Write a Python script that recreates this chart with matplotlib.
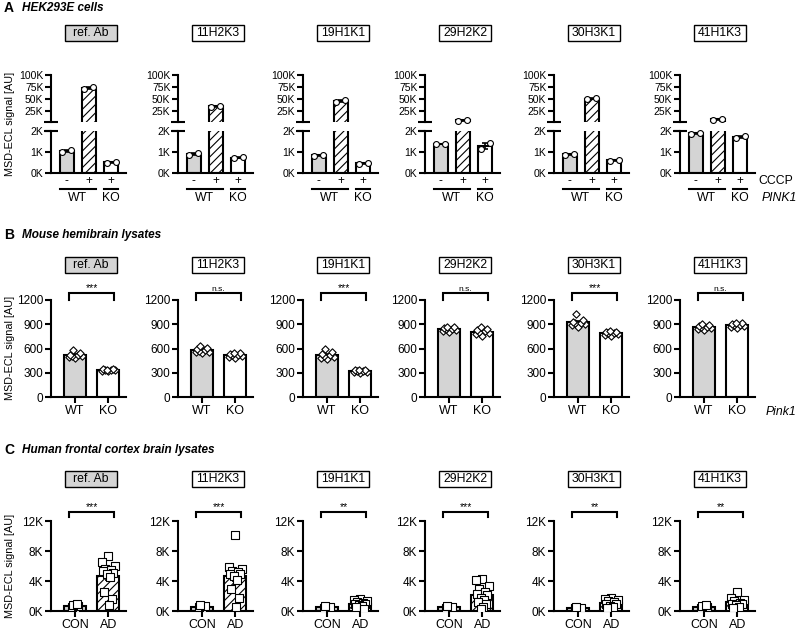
import numpy as np
import matplotlib
matplotlib.use('Agg')
import matplotlib.pyplot as plt
from matplotlib.patches import Rectangle
from matplotlib.transforms import blended_transform_factory

plt.rcParams['font.family'] = ['Liberation Sans', 'DejaVu Sans']
plt.rcParams['hatch.linewidth'] = 0.8

W, H = 800, 635
GRAY = '#d4d4d4'

antibodies = ['ref. Ab', '11H2K3', '19H1K1', '29H2K2', '30H3K1', '41H1K3']

# A: HEK293E cells (WT -CCCP, WT +CCCP, KO +CCCP), 2 replicates each
a_wt_minus = [[1000, 1080], [880, 930], [820, 860], [1360, 1390], [880, 920], [1880, 1910]]
a_wt_plus = [[71000, 76000], [34000, 36000], [44000, 47000], [5000, 7000], [49000, 52000], [6500, 8500]]
a_ko_plus = [[480, 540], [700, 740], [440, 470], [1130, 1420], [590, 640], [1670, 1740]]

# B: mouse hemibrain lysates
b_wt = [[480, 500, 505, 510, 515, 520, 550, 580],
        [540, 555, 560, 570, 580, 590, 610, 630],
        [470, 485, 500, 510, 515, 530, 555, 590],
        [810, 820, 830, 840, 845, 850, 860, 870],
        [870, 885, 900, 910, 920, 930, 950, 1030],
        [830, 845, 855, 860, 870, 880, 890, 905]]
b_ko = [[320, 325, 330, 335, 340, 345, 350, 330],
        [480, 500, 510, 520, 525, 530, 540, 545],
        [300, 310, 315, 320, 325, 330, 335, 340],
        [760, 780, 795, 805, 815, 825, 840, 860],
        [750, 770, 780, 790, 795, 800, 810, 820],
        [850, 870, 880, 890, 895, 900, 910, 920]]
b_sig = ['***', 'n.s.', '***', 'n.s.', '***', 'n.s.']

# C: human frontal cortex brain lysates
c_con = [[450, 600, 700, 800, 900],
         [400, 550, 650, 750],
         [300, 450, 550, 650],
         [300, 450, 550, 700],
         [250, 350, 450, 550],
         [300, 400, 550, 700, 800]]
c_ad = [[7300, 6600, 6000, 5600, 5500, 5300, 5100, 5000, 4500, 2500, 1600, 800],
        [10200, 5900, 5600, 5400, 5200, 5000, 4900, 4700, 4200, 3000, 1800, 600],
        [1600, 1500, 1300, 1200, 1100, 1000, 900, 800, 700, 500, 300],
        [4300, 4100, 3300, 3000, 2600, 2300, 2100, 1800, 1500, 1200, 900, 600, 300],
        [1700, 1600, 1500, 1300, 1200, 1000, 900, 700, 500, 400],
        [2600, 1700, 1500, 1300, 1100, 1000, 900, 800, 600, 400]]
c_sig = ['***', '***', '**', '***', '**', '**']

lefts = [51, 178, 303, 425, 554, 680]
AX_W = 75

fig = plt.figure(figsize=(8, 6.35), dpi=100)


def px_axes(left, top, width, height):
    return fig.add_axes([left / W, 1 - (top + height) / H, width / W, height / H])


def style(ax, fs):
    for s in ['top', 'right']:
        ax.spines[s].set_visible(False)
    for s in ['left', 'bottom']:
        ax.spines[s].set_linewidth(1.5)
    ax.tick_params(width=1.5, length=4, labelsize=fs, pad=1.5)
    ax.patch.set_alpha(0)


def jitter(n, spread=0.22):
    pattern = [0, -1, 1, -0.5, 0.5, -0.8, 0.8, -0.25, 0.25, -0.6, 0.6, 0.1, -0.1]
    return np.array([pattern[i % len(pattern)] * spread for i in range(n)])


def draw_bar(ax, x, vals, color, hatch, marker, ms, width=0.65, points=True, bottom=0,
             spread=0.2):
    vals = np.asarray(vals, float)
    m = vals.mean()
    se = vals.std(ddof=1) / np.sqrt(len(vals))
    ax.bar(x, m - bottom, bottom=bottom, width=width, color=color, edgecolor='black',
           linewidth=1.5, hatch=hatch, zorder=2)
    ax.errorbar(x, m, yerr=se, color='black', lw=1.2, capsize=2.5, capthick=1.2, zorder=3)
    if points:
        ax.scatter(x + jitter(len(vals), spread), vals, marker=marker, s=ms, facecolor='white',
                   edgecolor='black', linewidth=0.8, zorder=4)


def title_box(cx, cy, label):
    fc = GRAY if label == 'ref. Ab' else 'white'
    fig.add_artist(Rectangle(((cx - 26) / W, 1 - (cy + 8) / H), 52 / W, 16 / H,
                             transform=fig.transFigure, facecolor=fc,
                             edgecolor='black', linewidth=1.0))
    fig.text(cx / W, 1 - cy / H, label, ha='center', va='center', fontsize=8.8)


def bracket(ax, y_top, y_bot, label):
    ax.plot([-0.18, -0.18, 1.18, 1.18], [y_bot, y_top, y_top, y_bot], color='black',
            lw=1.5, clip_on=False, solid_joinstyle='miter')
    fs = 6 if label == 'n.s.' else 7.5
    ax.text(0.5, y_top, label, ha='center', va='bottom', fontsize=fs)


# ---------------- panel A ----------------
fig.text(4 / W, 1 - 8 / H, 'A', fontweight='bold', fontsize=10, va='center')
fig.text(22 / W, 1 - 8 / H, 'HEK293E cells', fontweight='bold', style='italic',
         fontsize=8.5, va='center')
fig.text(10 / W, 1 - 124 / H, 'MSD-ECL signal [AU]', rotation=90, ha='center',
         va='center', fontsize=7.8)

for i, ab in enumerate(antibodies):
    left = lefts[i]
    title_box(left + 40, 33, ab)
    up = px_axes(left, 75, AX_W, 47)
    lo = px_axes(left, 131, AX_W, 42)
    groups = [(0, a_wt_minus[i], GRAY, None), (1, a_wt_plus[i], 'white', '////'),
              (2, a_ko_plus[i], 'white', None)]
    style(up, 7.5)
    style(lo, 7.5)
    for x, vals, col, hat in groups:
        draw_bar(lo, x, vals, col, hat, 'o', 16, width=0.63, points=False)
        if np.mean(vals) > 2000:
            draw_bar(up, x, vals, col, hat, 'o', 16, width=0.63, points=False, bottom=-20000)
        for v, dx in zip(vals, [-0.2, 0.2]):
            target = lo if v < 2000 else up
            target.scatter(x + dx, v, marker='o', s=18, facecolor='white',
                           edgecolor='black', linewidth=0.8, zorder=4, clip_on=False)
    for ax in (up, lo):
        ax.set_xlim(-0.7, 2.67)
    up.set_ylim(2000, 100000)
    up.set_yticks([25000, 50000, 75000, 100000])
    up.set_yticklabels(['25K', '50K', '75K', '100K'])
    up.spines['bottom'].set_visible(False)
    up.tick_params(bottom=False, labelbottom=False)
    lo.set_ylim(0, 2000)
    lo.set_yticks([0, 1000, 2000])
    lo.set_yticklabels(['0K', '1K', '2K'])
    lo.tick_params(bottom=False, labelbottom=False)
    up.plot([0], [0], marker='_', ms=10, mew=1.5, color='black',
            transform=up.transAxes, clip_on=False)
    lo.plot([0], [1], marker='_', ms=10, mew=1.5, color='black',
            transform=lo.transAxes, clip_on=False)

    tr = blended_transform_factory(lo.transData, fig.transFigure)
    for x, s in zip([0, 1, 2], ['-', '+', '+']):
        lo.text(x, 1 - 181 / H, s, transform=tr, ha='center', va='center', fontsize=8.5)
    lo.plot([-0.3, 1.3], [1 - 189 / H] * 2, transform=tr, color='black', lw=1.5, clip_on=False)
    lo.plot([1.7, 2.3], [1 - 189 / H] * 2, transform=tr, color='black', lw=1.5, clip_on=False)
    lo.text(0.5, 1 - 198 / H, 'WT', transform=tr, ha='center', va='center', fontsize=8.8)
    lo.text(2, 1 - 198 / H, 'KO', transform=tr, ha='center', va='center', fontsize=8.8)

fig.text(758 / W, 1 - 181 / H, 'CCCP', ha='left', va='center', fontsize=8.8)
fig.text(762 / W, 1 - 198 / H, 'PINK1', ha='left', va='center', fontsize=8.8, style='italic')

# ---------------- panel B ----------------
fig.text(4 / W, 1 - 235 / H, 'B', fontweight='bold', fontsize=10, va='center')
fig.text(22 / W, 1 - 235 / H, 'Mouse hemibrain lysates', fontweight='bold', style='italic',
         fontsize=8.5, va='center')
fig.text(10 / W, 1 - 348 / H, 'MSD-ECL signal [AU]', rotation=90, ha='center',
         va='center', fontsize=7.8)

for i, ab in enumerate(antibodies):
    left = lefts[i]
    title_box(left + 40, 265, ab)
    ax = px_axes(left, 300, AX_W, 97)
    style(ax, 8.5)
    draw_bar(ax, 0, b_wt[i], GRAY, None, 'D', 14, width=0.67)
    draw_bar(ax, 1, b_ko[i], 'white', None, 'D', 14, width=0.67)
    ax.set_xlim(-0.73, 1.54)
    ax.set_ylim(0, 1200)
    ax.set_yticks([0, 300, 600, 900, 1200])
    ax.set_xticks([0, 1])
    ax.set_xticklabels(['WT', 'KO'], fontsize=9)
    bracket(ax, 1290, 1200, b_sig[i])

fig.text(766 / W, 1 - 412 / H, 'Pink1', ha='left', va='center', fontsize=8.8, style='italic')

# ---------------- panel C ----------------
fig.text(4 / W, 1 - 450 / H, 'C', fontweight='bold', fontsize=10, va='center')
fig.text(22 / W, 1 - 450 / H, 'Human frontal cortex brain lysates', fontweight='bold',
         style='italic', fontsize=8.5, va='center')
fig.text(10 / W, 1 - 566 / H, 'MSD-ECL signal [AU]', rotation=90, ha='center',
         va='center', fontsize=7.8)

for i, ab in enumerate(antibodies):
    left = lefts[i]
    title_box(left + 40, 479, ab)
    ax = px_axes(left, 521, AX_W, 90)
    style(ax, 8.5)
    draw_bar(ax, 0, c_con[i], GRAY, None, 's', 26, width=0.67, spread=0.1)
    draw_bar(ax, 1, c_ad[i], 'white', '////', 's', 26, width=0.67)
    ax.set_xlim(-0.73, 1.54)
    ax.set_ylim(0, 12000)
    ax.set_yticks([0, 4000, 8000, 12000])
    ax.set_yticklabels(['0K', '4K', '8K', '12K'])
    ax.set_xticks([0, 1])
    ax.set_xticklabels(['CON', 'AD'], fontsize=9)
    bracket(ax, 13200, 12500, c_sig[i])

fig.savefig('out.png', dpi=100)
